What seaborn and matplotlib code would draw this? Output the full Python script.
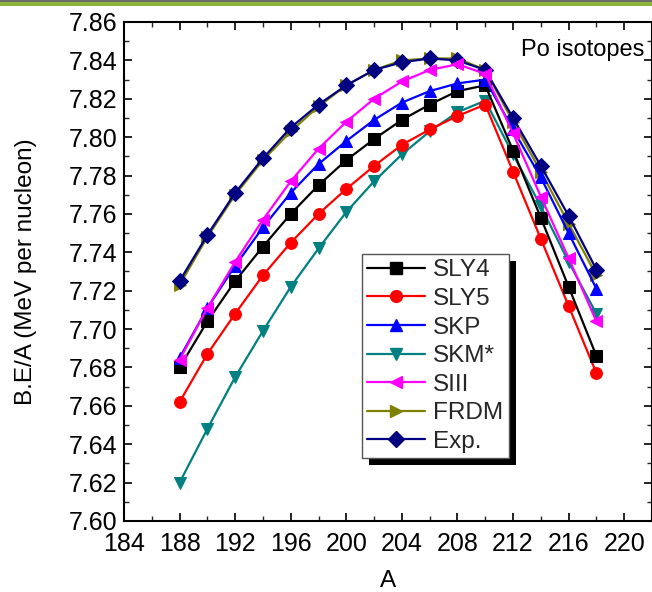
import numpy as np
import pandas as pd
import matplotlib
matplotlib.use("Agg")
import matplotlib.pyplot as plt
from matplotlib.patches import Rectangle
from matplotlib.lines import Line2D
from matplotlib.ticker import MultipleLocator, FormatStrFormatter
import seaborn as sns

A = [188, 190, 192, 194, 196, 198, 200, 202, 204, 206, 208, 210, 212, 214, 216, 218]
SLY4 = [7.680, 7.704, 7.725, 7.743, 7.760, 7.775, 7.788, 7.799, 7.809, 7.817, 7.824, 7.827, 7.793, 7.758, 7.722, 7.686]
SLY5 = [7.662, 7.687, 7.708, 7.728, 7.745, 7.760, 7.773, 7.785, 7.796, 7.804, 7.811, 7.817, 7.782, 7.747, 7.712, 7.677]
SKP = [7.685, 7.711, 7.733, 7.753, 7.771, 7.786, 7.798, 7.809, 7.818, 7.824, 7.828, 7.830, 7.804, 7.779, 7.750, 7.721]
SKMs = [7.620, 7.648, 7.675, 7.699, 7.722, 7.742, 7.761, 7.777, 7.791, 7.803, 7.813, 7.819, 7.791, 7.764, 7.735, 7.708]
SIII = [7.684, 7.711, 7.735, 7.757, 7.777, 7.794, 7.808, 7.820, 7.829, 7.835, 7.838, 7.833, 7.802, 7.769, 7.737, 7.704]
FRDM = [7.723, 7.748, 7.770, 7.788, 7.803, 7.816, 7.827, 7.835, 7.840, 7.841, 7.841, 7.835, 7.808, 7.782, 7.755, 7.728]
EXP = [7.725, 7.749, 7.771, 7.789, 7.805, 7.817, 7.827, 7.835, 7.839, 7.841, 7.840, 7.835, 7.810, 7.785, 7.759, 7.731]

names = ["SLY4", "SLY5", "SKP", "SKM*", "SIII", "FRDM", "Exp."]
series = [SLY4, SLY5, SKP, SKMs, SIII, FRDM, EXP]
colors = ["#000000", "#ff0000", "#0000ff", "#008080", "#ff00ff", "#808000", "#000080"]
markers = ["s", "o", "^", "v", "<", ">", "D"]
x_ticks = [184, 188, 192, 196, 200, 204, 208, 212, 216, 220]

rows = []
for n, s in zip(names, series):
    for a, v in zip(A, s):
        rows.append({"A": a, "BE": v, "model": n})
df = pd.DataFrame(rows)

sns.set_theme(style="white")
plt.rcParams['font.family'] = ['Liberation Sans', 'DejaVu Sans']

fig = plt.figure(figsize=(6.52, 5.92), dpi=100)
ax = fig.add_axes([124/652, 1-521/592, 528/652, 499/592])

order = ["FRDM", "Exp.", "SKM*", "SLY5", "SLY4", "SKP", "SIII"]
for n in order:
    i = names.index(n)
    sub = df[df.model == n]
    ms = 8.5 if markers[i] != "D" else 8
    sns.lineplot(data=sub, x="A", y="BE", color=colors[i], marker=markers[i],
                 markersize=ms, markeredgecolor=colors[i], linewidth=1.6, ax=ax,
                 legend=False)

ax.set_xlim(184, 222)
ax.set_ylim(7.60, 7.86)
ax.set_xticks(x_ticks)
ax.xaxis.set_minor_locator(MultipleLocator(2))
ax.yaxis.set_major_locator(MultipleLocator(0.02))
ax.yaxis.set_minor_locator(MultipleLocator(0.01))
ax.yaxis.set_major_formatter(FormatStrFormatter('%.2f'))
ax.tick_params(which='major', direction='in', length=6, width=1.2, top=True, right=True,
               labelsize=18, colors='black')
ax.tick_params(axis='x', which='major', pad=8)
ax.tick_params(axis='y', which='major', pad=5)
ax.tick_params(which='minor', direction='in', length=3.5, width=1.0, top=True, right=True)
ax.tick_params(axis='both', which='both', bottom=True, left=True)
for sp in ax.spines.values():
    sp.set_color('black')
    sp.set_linewidth(1.5)

ax.set_xlabel("A", fontsize=17.5, color='black')
ax.set_ylabel("B.E/A (MeV per nucleon)", fontsize=17.5, color='black')
ax.xaxis.set_label_coords(0.5, (521 - 570) / 499)
ax.yaxis.set_label_coords((37 - 124) / 528, 0.5)

ax.text(0.985, 0.965, "Po isotopes", transform=ax.transAxes, ha='right', va='top',
        fontsize=17, color='black')

handles = [Line2D([0], [0], color=c, marker=m, markersize=8.5 if m != "D" else 8,
                  markeredgecolor=c, linewidth=1.6) for c, m in zip(colors, markers)]
leg = ax.legend(handles, names, loc='upper left', bbox_to_anchor=(0.45, 0.535),
                fontsize=17.5, frameon=True, fancybox=False, handlelength=2.4,
                handletextpad=0.33, labelspacing=0.27, borderpad=0.22, borderaxespad=0)
leg.get_frame().set_edgecolor('#555555')
leg.get_frame().set_linewidth(1.0)
leg.get_frame().set_alpha(1)
leg.set_zorder(10)

fig.canvas.draw()
bb = leg.get_window_extent().transformed(ax.transAxes.inverted())
dx = 7 / 528
dy = 7 / 499
ax.add_patch(Rectangle((bb.x0 + dx, bb.y0 - dy), bb.width, bb.height, transform=ax.transAxes,
                       facecolor='black', edgecolor='none', zorder=9, clip_on=False))

fig.add_artist(Rectangle((0, 1 - 2/592), 1, 2/592, transform=fig.transFigure,
                         facecolor='#6b6b6b', edgecolor='none'))
fig.add_artist(Rectangle((0, 1 - 6/592), 1, 4/592, transform=fig.transFigure,
                         facecolor='#8db33a', edgecolor='none'))

fig.savefig("out.png", dpi=100)
